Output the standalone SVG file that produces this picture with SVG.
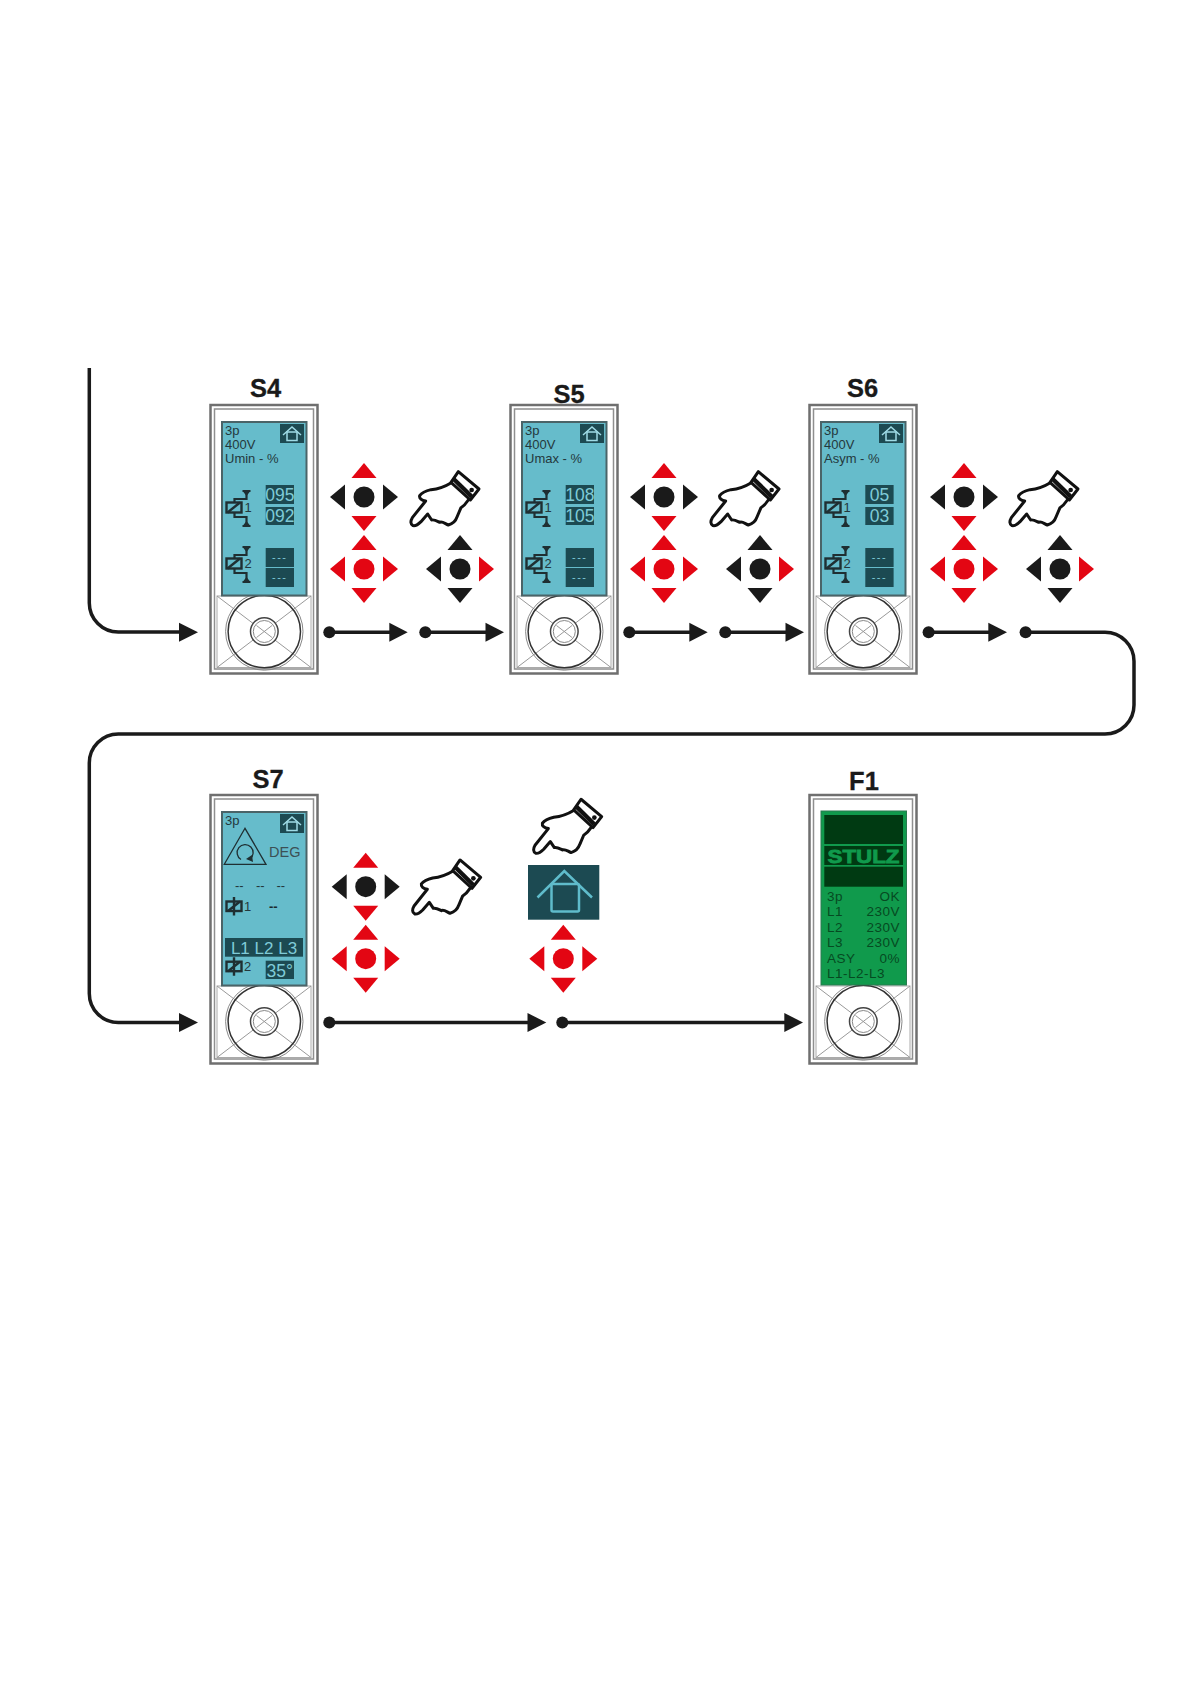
<svg xmlns="http://www.w3.org/2000/svg" xmlns:xlink="http://www.w3.org/1999/xlink" width="1191" height="1684" viewBox="0 0 1191 1684">
<style>
text{font-family:"Liberation Sans",Arial,sans-serif}
.title{font-size:25.500px;font-weight:700;fill:#1a1a1a;text-anchor:middle;stroke:#1a1a1a;stroke-width:.3px}
.scr{fill:#66bccb;stroke:#4a6468;stroke-width:2}
.t{font-size:13px;fill:#24383c}
.box{fill:#1c4a52}
.v{font-size:17.500px;fill:#7fcbd8;text-anchor:middle}
.d{font-size:11px;fill:#7fcbd8;text-anchor:middle;letter-spacing:1.500px}
.g{font-size:13.500px;fill:#064a22;letter-spacing:.5px}
.line{fill:none;stroke:#1a1a1a;stroke-width:3.500}
.ah{fill:#1a1a1a}
.k{fill:#1a1a1a}
.r{fill:#e30613}
.coil{fill:none;stroke:#1f2f32;stroke-width:2.400}
</style>
<defs>
<g id="device">
<rect x="210.500" y="405" width="107" height="268.500" fill="#fff" stroke="#6f6f6f" stroke-width="2.500"/>
<rect x="214.500" y="409" width="99" height="260" fill="#fff" stroke="#8f8f8f" stroke-width="1.500"/>
<rect x="217" y="596" width="94" height="71.500" fill="#fff" stroke="#aaa" stroke-width="1"/>
<path d="M217 596L311 667.500M311 596L217 667.500" stroke="#999" stroke-width="1" fill="none"/>
<circle cx="264.300" cy="631.500" r="38.700" fill="none" stroke="#888" stroke-width="1"/>
<circle cx="264.300" cy="631.500" r="36.200" fill="none" stroke="#333" stroke-width="1.500"/>
<circle cx="264.300" cy="631.500" r="13.800" fill="#fff" stroke="#444" stroke-width="1.500"/>
<circle cx="264.300" cy="631.500" r="11" fill="none" stroke="#888" stroke-width="1"/>
<path d="M256.500 625.500L272 637.500M272 625.500L256.500 637.500" stroke="#999" stroke-width="1"/>
</g>
<g id="homeS">
<rect x="280" y="424" width="24" height="19" class="box"/>
<path d="M283 435L292 427L301 435" fill="none" stroke="#9fdbe6" stroke-width="1.500"/>
<rect x="287" y="432" width="10" height="8.500" fill="none" stroke="#9fdbe6" stroke-width="1.500"/>
</g>
<g id="relay">
<rect x="226.500" y="502.500" width="15" height="10" class="coil"/>
<path d="M227.500 512.500L240 502.500" class="coil"/>
<path d="M234.500 502.500V499H246.500V491M242.500 491H250.500M234.500 512.500V517H246.500V526M242.500 526H250.500" fill="none" stroke="#1f2f32" stroke-width="2.200"/>
<path d="M243 491.500H250L246.500 496ZM243 525.500H250L246.500 521Z" fill="#1f2f32"/>
</g>
<g id="coil">
<rect x="226.500" y="0" width="15" height="9.500" class="coil"/>
<path d="M228 9.500L240 0M234 -4.500V14" class="coil"/>
</g>
<path id="tri" d="M0 -34L-12.500 -19H12.500Z"/>
<g id="hand" transform="scale(.3333)">
<path d="M139 53C118 66 100 72 78 74C62 78 50 84 44 92C42 100 50 106 62 108L22 158C16 168 16 178 24 182C32 184 40 178 48 170L68 147L80 165C88 163 96 168 104 172C112 168 120 176 130 180C144 176 152 168 156 156L168 128C178 122 184 114 190 105" fill="#fff" stroke="#111" stroke-width="9" stroke-linejoin="round" stroke-linecap="round"/>
<path d="M160 20L222 72L196 105L138 52Z" fill="#fff" stroke="#111" stroke-width="9" stroke-linejoin="round"/>
<path d="M146 42L200 95" stroke="#111" stroke-width="13" fill="none"/>
<circle cx="200" cy="75" r="7" fill="#111"/>
</g>
</defs>

<g id="connectors">
<path class="line" d="M89.300 368V603A29 29 0 0 0 118.300 632H182"/>
<path class="line" d="M329.300 632.300H392M425.300 632.300H488M629.300 632.300H692M725.300 632.300H788M928.600 632.300H991"/>
<path class="line" d="M1025.600 632.300H1105A29 29 0 0 1 1134 661.300V705A29 29 0 0 1 1105 734H118.300A29 29 0 0 0 89.300 763V993.500A29 29 0 0 0 118.300 1022.500H182"/>
<path class="line" d="M329.300 1022.500H530M562.300 1022.500H787"/>
<g class="ah">
<path d="M179 622.800L198 632.300L179 641.800Z"/>
<path d="M389.300 622.800L407.700 632.300L389.300 641.800Z"/>
<path d="M485.500 622.800L504 632.300L485.500 641.800Z"/>
<path d="M689.300 622.800L707.700 632.300L689.300 641.800Z"/>
<path d="M785.500 622.800L804 632.300L785.500 641.800Z"/>
<path d="M988.300 622.800L1007 632.300L988.300 641.800Z"/>
<path d="M179 1013L198 1022.500L179 1032Z"/>
<path d="M527.500 1013L546.300 1022.500L527.500 1032Z"/>
<path d="M784.300 1013L803 1022.500L784.300 1032Z"/>
<circle cx="329.300" cy="632.300" r="6"/><circle cx="425.300" cy="632.300" r="6"/>
<circle cx="629.300" cy="632.300" r="6"/><circle cx="725.300" cy="632.300" r="6"/>
<circle cx="928.600" cy="632.300" r="6"/><circle cx="1025.600" cy="632.300" r="6"/>
<circle cx="329.300" cy="1022.500" r="6"/><circle cx="562.300" cy="1022.500" r="6"/>
</g>
</g>

<g id="S4">
<text class="title" x="265.700" y="397">S4</text>
<use href="#device"/>
<rect class="scr" x="222" y="422" width="84.500" height="173.500"/>
<text class="t" x="225" y="435">3p</text><text class="t" x="225" y="449">400V</text><text class="t" x="225" y="463">Umin - %</text>
<use href="#homeS"/>
<use href="#relay"/><text class="t" x="244.500" y="512">1</text>
<use href="#relay" y="56"/><text class="t" x="244.500" y="568">2</text>
<rect class="box" x="265.700" y="485" width="28.300" height="19"/><text class="v" x="279.800" y="501">095</text>
<rect class="box" x="265.700" y="507" width="28.300" height="18"/><text class="v" x="279.800" y="522">092</text>
<rect class="box" x="265.700" y="548" width="28.300" height="19"/><text class="d" x="279.800" y="561">---</text>
<rect class="box" x="265.700" y="568" width="28.300" height="19"/><text class="d" x="279.800" y="581">---</text>
</g>

<g id="S5">
<text class="title" x="569" y="403">S5</text>
<use href="#device" x="300"/>
<rect class="scr" x="522" y="422" width="84.500" height="173.500"/>
<text class="t" x="525" y="435">3p</text><text class="t" x="525" y="449">400V</text><text class="t" x="525" y="463">Umax - %</text>
<use href="#homeS" x="300"/>
<use href="#relay" x="300"/><text class="t" x="544.500" y="512">1</text>
<use href="#relay" x="300" y="56"/><text class="t" x="544.500" y="568">2</text>
<rect class="box" x="565.700" y="485" width="28.300" height="19"/><text class="v" x="579.800" y="501">108</text>
<rect class="box" x="565.700" y="507" width="28.300" height="18"/><text class="v" x="579.800" y="522">105</text>
<rect class="box" x="565.700" y="548" width="28.300" height="19"/><text class="d" x="579.800" y="561">---</text>
<rect class="box" x="565.700" y="568" width="28.300" height="19"/><text class="d" x="579.800" y="581">---</text>
</g>

<g id="S6">
<text class="title" x="862.700" y="397">S6</text>
<use href="#device" x="599"/>
<rect class="scr" x="821" y="422" width="84.500" height="173.500"/>
<text class="t" x="824" y="435">3p</text><text class="t" x="824" y="449">400V</text><text class="t" x="824" y="463">Asym - %</text>
<use href="#homeS" x="599"/>
<use href="#relay" x="599"/><text class="t" x="843.500" y="512">1</text>
<use href="#relay" x="599" y="56"/><text class="t" x="843.500" y="568">2</text>
<rect class="box" x="865.300" y="485" width="28.300" height="19"/><text class="v" x="879.400" y="501">05</text>
<rect class="box" x="865.300" y="507" width="28.300" height="18"/><text class="v" x="879.400" y="522">03</text>
<rect class="box" x="865.300" y="548" width="28.300" height="19"/><text class="d" x="879.400" y="561">---</text>
<rect class="box" x="865.300" y="568" width="28.300" height="19"/><text class="d" x="879.400" y="581">---</text>
</g>

<g id="S7">
<text class="title" x="268" y="788">S7</text>
<use href="#device" y="390"/>
<rect class="scr" x="222" y="812" width="84.500" height="173.500"/>
<text class="t" x="225" y="825">3p</text>
<use href="#homeS" y="390"/>
<path d="M245 828.300L224.300 864.300H266Z" fill="none" stroke="#1f2f32" stroke-width="1.300"/>
<path d="M250 859A8 8 0 1 0 241 859.500" fill="none" stroke="#1f2f32" stroke-width="1.300"/>
<path d="M246 859L252 855L253 862Z" fill="#1f2f32"/>
<text class="t" x="269" y="857" style="font-size:14.500px;fill:#3c5055">DEG</text>
<text x="235" y="890" style="font-size:13px;fill:#24383c">--</text>
<text x="256" y="890" style="font-size:13px;fill:#24383c">--</text>
<text x="276.500" y="890" style="font-size:13px;fill:#24383c">--</text>
<use href="#coil" y="901.500"/><text class="t" x="244" y="911">1</text>
<text x="269" y="911" style="font-size:13px;font-weight:700;fill:#1a2a2d">--</text>
<rect class="box" x="225" y="938" width="78" height="18.700"/>
<text class="v" x="264" y="953.500" style="font-size:17px">L1 L2 L3</text>
<use href="#coil" y="961.700"/><text class="t" x="244" y="971">2</text>
<rect class="box" x="265.700" y="960.700" width="28.300" height="18.300"/><text class="v" x="279.800" y="976.500">35°</text>
</g>

<g id="F1">
<text class="title" x="864" y="790">F1</text>
<use href="#device" x="599" y="390"/>
<rect x="821" y="811" width="85.500" height="174" fill="#109a4c" stroke="#2a7a50" stroke-width="1"/>
<rect x="824.300" y="815" width="78.700" height="29" fill="#003a12"/>
<rect x="824.300" y="846" width="78.700" height="19" fill="#003a12"/>
<rect x="824.300" y="866.700" width="78.700" height="20" fill="#003a12"/>
<text x="827.500" y="862.500" textLength="72" lengthAdjust="spacingAndGlyphs" style="font-size:19px;font-weight:700;fill:#109a4c;stroke:#109a4c;stroke-width:.8px">STULZ</text>
<text class="g" x="827" y="900.700">3p</text><text class="g" x="900" y="900.700" text-anchor="end">OK</text>
<text class="g" x="827" y="916">L1</text><text class="g" x="900" y="916" text-anchor="end">230V</text>
<text class="g" x="827" y="931.600">L2</text><text class="g" x="900" y="931.600" text-anchor="end">230V</text>
<text class="g" x="827" y="947">L3</text><text class="g" x="900" y="947" text-anchor="end">230V</text>
<text class="g" x="827" y="963">ASY</text><text class="g" x="900" y="963" text-anchor="end">0%</text>
<text class="g" x="827" y="978.300">L1-L2-L3</text>
</g>

<g id="pad-S4-a" transform="translate(364 497)"><use href="#tri" class="r"/><use href="#tri" class="r" transform="rotate(180)"/><use href="#tri" class="k" transform="rotate(90)"/><use href="#tri" class="k" transform="rotate(-90)"/><circle r="10.500" class="k"/></g>
<g id="pad-S4-b" transform="translate(364 569)"><use href="#tri" class="r"/><use href="#tri" class="r" transform="rotate(180)"/><use href="#tri" class="r" transform="rotate(90)"/><use href="#tri" class="r" transform="rotate(-90)"/><circle r="10.500" class="r"/></g>
<g id="pad-S4-c" transform="translate(460 569)"><use href="#tri" class="k"/><use href="#tri" class="k" transform="rotate(180)"/><use href="#tri" class="r" transform="rotate(90)"/><use href="#tri" class="k" transform="rotate(-90)"/><circle r="10.500" class="k"/></g>
<g id="pad-S5-a" transform="translate(664 497)"><use href="#tri" class="r"/><use href="#tri" class="r" transform="rotate(180)"/><use href="#tri" class="k" transform="rotate(90)"/><use href="#tri" class="k" transform="rotate(-90)"/><circle r="10.500" class="k"/></g>
<g id="pad-S5-b" transform="translate(664 569)"><use href="#tri" class="r"/><use href="#tri" class="r" transform="rotate(180)"/><use href="#tri" class="r" transform="rotate(90)"/><use href="#tri" class="r" transform="rotate(-90)"/><circle r="10.500" class="r"/></g>
<g id="pad-S5-c" transform="translate(760 569)"><use href="#tri" class="k"/><use href="#tri" class="k" transform="rotate(180)"/><use href="#tri" class="r" transform="rotate(90)"/><use href="#tri" class="k" transform="rotate(-90)"/><circle r="10.500" class="k"/></g>
<g id="pad-S6-a" transform="translate(964 497)"><use href="#tri" class="r"/><use href="#tri" class="r" transform="rotate(180)"/><use href="#tri" class="k" transform="rotate(90)"/><use href="#tri" class="k" transform="rotate(-90)"/><circle r="10.500" class="k"/></g>
<g id="pad-S6-b" transform="translate(964 569)"><use href="#tri" class="r"/><use href="#tri" class="r" transform="rotate(180)"/><use href="#tri" class="r" transform="rotate(90)"/><use href="#tri" class="r" transform="rotate(-90)"/><circle r="10.500" class="r"/></g>
<g id="pad-S6-c" transform="translate(1060 569)"><use href="#tri" class="k"/><use href="#tri" class="k" transform="rotate(180)"/><use href="#tri" class="r" transform="rotate(90)"/><use href="#tri" class="k" transform="rotate(-90)"/><circle r="10.500" class="k"/></g>
<g id="pad-S7-a" transform="translate(365.700 886.700)"><use href="#tri" class="r"/><use href="#tri" class="r" transform="rotate(180)"/><use href="#tri" class="k" transform="rotate(90)"/><use href="#tri" class="k" transform="rotate(-90)"/><circle r="10.500" class="k"/></g>
<g id="pad-S7-b" transform="translate(365.700 958.700)"><use href="#tri" class="r"/><use href="#tri" class="r" transform="rotate(180)"/><use href="#tri" class="r" transform="rotate(90)"/><use href="#tri" class="r" transform="rotate(-90)"/><circle r="10.500" class="r"/></g>
<g id="pad-home" transform="translate(563.300 958.700)"><use href="#tri" class="r"/><use href="#tri" class="r" transform="rotate(180)"/><use href="#tri" class="r" transform="rotate(90)"/><use href="#tri" class="r" transform="rotate(-90)"/><circle r="10.500" class="r"/></g>

<g id="hand-S4" transform="translate(405 465)"><use href="#hand"/></g>
<g id="hand-S5" transform="translate(705 465)"><use href="#hand"/></g>
<g id="hand-S6" transform="translate(1004 465)"><use href="#hand"/></g>
<g id="hand-S7" transform="translate(406.700 853.300)"><use href="#hand"/></g>
<g id="hand-home" transform="translate(527.700 792.600)"><use href="#hand"/></g>

<g id="home-button">
<rect x="528" y="865" width="71.300" height="54.700" class="box"/>
<path d="M537.500 897.500L564.300 871L592 897.500" fill="none" stroke="#5fbccb" stroke-width="2.500"/>
<rect x="551.500" y="884" width="27.500" height="27.500" rx="1.500" fill="none" stroke="#5fbccb" stroke-width="2.500"/>
</g>
</svg>
